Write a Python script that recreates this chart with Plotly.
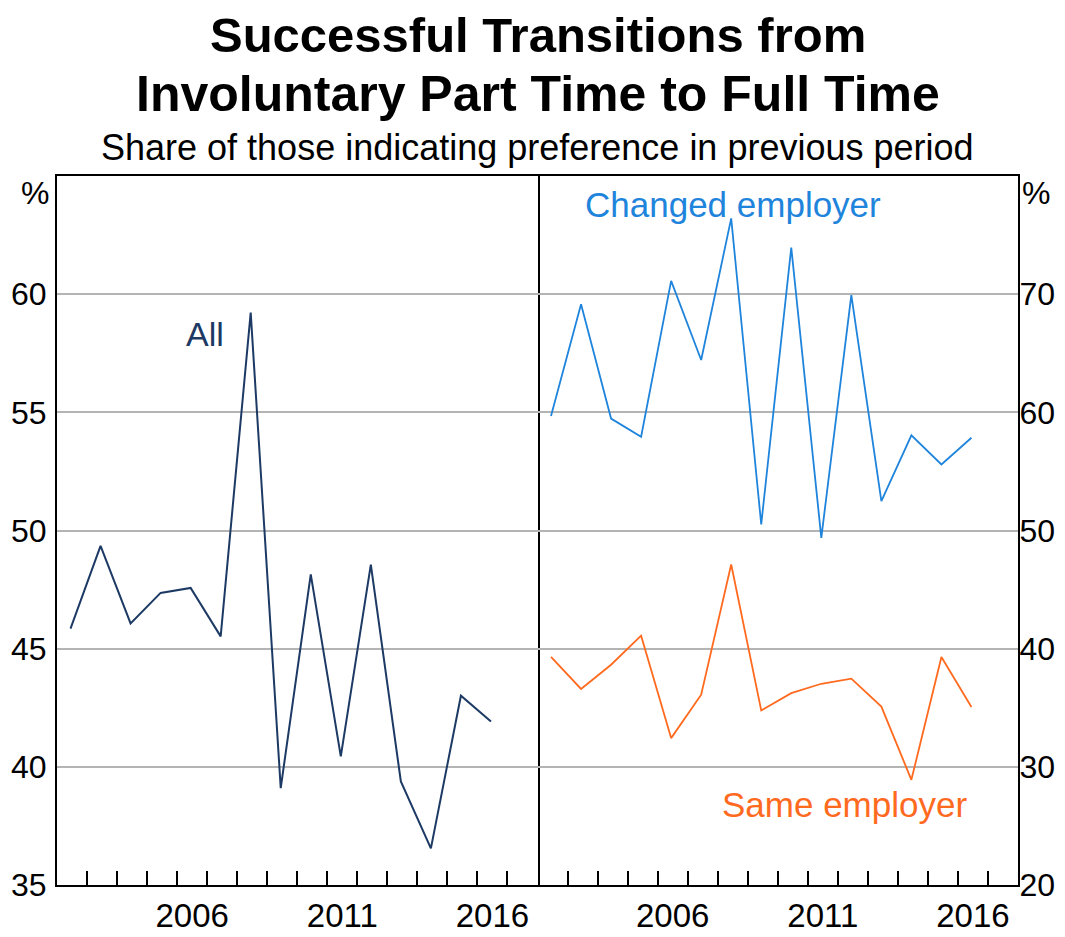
import plotly.graph_objects as go

years = list(range(2002, 2017))
all_series = [45.85, 49.35, 46.07, 47.36, 47.57, 45.52, 59.22, 39.10, 48.14, 40.44, 48.56, 39.38, 36.55, 43.01, 41.92]
changed_employer = [59.69, 69.15, 59.47, 57.93, 71.13, 64.43, 76.41, 50.51, 73.95, 49.38, 69.92, 52.48, 58.05, 55.59, 57.85]
same_employer = [39.30, 36.59, 38.64, 41.10, 32.43, 36.10, 47.12, 34.77, 36.24, 37.03, 37.46, 35.10, 28.90, 39.30, 35.06]

left_ticks = [35, 40, 45, 50, 55, 60]
right_ticks = [20, 30, 40, 50, 60, 70]
year_labels = [2006, 2011, 2016]

x_pos = [y + 0.45 for y in years]

FONT = "Liberation Sans, Arial, sans-serif"
NAVY = "#1c3a64"
BLUE = "#1f84dc"
ORANGE = "#ff6a1f"

fig = go.Figure()
fig.add_trace(go.Scatter(x=x_pos, y=all_series, mode="lines", line=dict(color=NAVY, width=2),
                         xaxis="x", yaxis="y", showlegend=False))
fig.add_trace(go.Scatter(x=x_pos, y=changed_employer, mode="lines", line=dict(color=BLUE, width=1.8),
                         xaxis="x2", yaxis="y2", showlegend=False))
fig.add_trace(go.Scatter(x=x_pos, y=same_employer, mode="lines", line=dict(color=ORANGE, width=1.8),
                         xaxis="x2", yaxis="y2", showlegend=False))

xcommon = dict(
    range=[2002, 2018],
    tickvals=[y + 0.5 for y in year_labels],
    ticktext=[str(y) for y in year_labels],
    ticks="",
    showgrid=False,
    zeroline=False,
    showline=True,
    linecolor="black",
    linewidth=2,
    mirror=True,
    automargin=False,
    tickfont=dict(family=FONT, size=33, color="black"),
    minor=dict(tickvals=list(range(2003, 2018)), ticks="inside", ticklen=14,
               tickcolor="black", tickwidth=2, showgrid=False),
)
ycommon = dict(
    showgrid=True,
    gridcolor="#b4b4b4",
    gridwidth=1.5,
    zeroline=False,
    showline=True,
    linecolor="black",
    linewidth=2,
    ticks="",
    automargin=False,
    tickfont=dict(family=FONT, size=32, color="black"),
)

# page body has an 8px default margin, so the figure is sized to fit the window
fig.update_layout(
    width=1057, height=929,
    margin=dict(l=49, r=47, t=168, b=52, autoexpand=False),
    paper_bgcolor="white", plot_bgcolor="white",
    xaxis=dict(domain=[0, 0.5], anchor="y", **xcommon),
    xaxis2=dict(domain=[0.5, 1], anchor="y2", **xcommon),
    yaxis=dict(domain=[0, 1], anchor="x", range=[35, 65], tickvals=left_ticks, side="left",
               mirror=True, ticklabelstandoff=2, **ycommon),
    yaxis2=dict(domain=[0, 1], anchor="x2", range=[20, 80], tickvals=right_ticks, side="right",
                mirror=False, ticklabelstandoff=-7, **ycommon),
    showlegend=False,
)

annotations = [
    dict(text="<b>Successful Transitions from</b>", x=0.5, y=1.199, xref="paper", yref="paper",
         showarrow=False, font=dict(family=FONT, size=49, color="black"), xanchor="center", yanchor="middle"),
    dict(text="<b>Involuntary Part Time to Full Time</b>", x=0.5, y=1.1155, xref="paper", yref="paper",
         showarrow=False, font=dict(family=FONT, size=50, color="black"), xanchor="center", yanchor="middle"),
    dict(text="Share of those indicating preference in previous period", x=0.5, y=1.0409, xref="paper",
         yref="paper", showarrow=False, font=dict(family=FONT, size=36, color="black"),
         xanchor="center", yanchor="middle"),
    dict(text="%", x=-0.006, y=0.976, xref="paper", yref="paper", showarrow=False,
         font=dict(family=FONT, size=32, color="black"), xanchor="right", yanchor="middle"),
    dict(text="%", x=1.002, y=0.976, xref="paper", yref="paper", showarrow=False,
         font=dict(family=FONT, size=32, color="black"), xanchor="left", yanchor="middle"),
    dict(text="All", x=2006.93, y=58.3, xref="x", yref="y", showarrow=False,
         font=dict(family=FONT, size=34, color=NAVY), xanchor="center", yanchor="middle"),
    dict(text="Changed employer", x=2008.5, y=77.6, xref="x2", yref="y2", showarrow=False,
         font=dict(family=FONT, size=35, color=BLUE), xanchor="center", yanchor="middle"),
    dict(text="Same employer", x=2012.23, y=26.8, xref="x2", yref="y2", showarrow=False,
         font=dict(family=FONT, size=35, color=ORANGE), xanchor="center", yanchor="middle"),
]
fig.update_layout(annotations=annotations)

fig.write_html("out.html")
